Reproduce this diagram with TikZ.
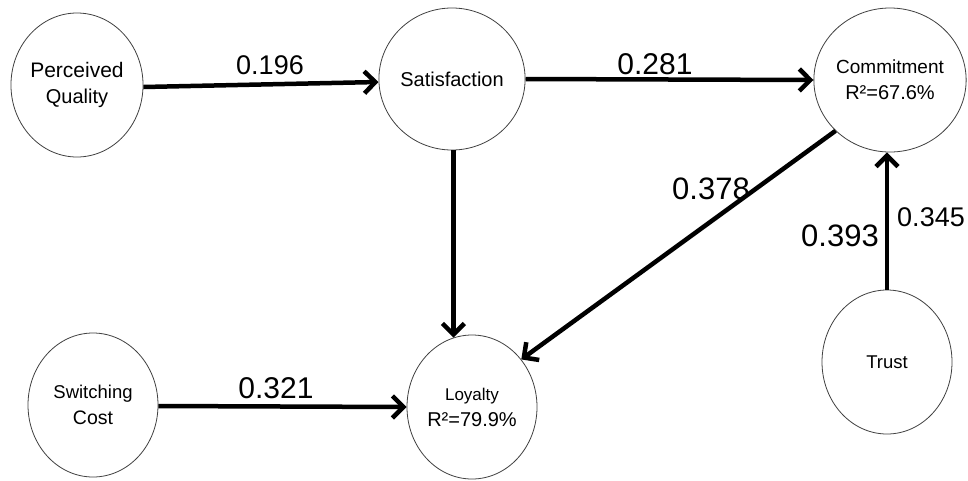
\documentclass[tikz,border=0pt]{standalone}
\usepackage{fontspec}
\setmainfont{Liberation Sans}
\usetikzlibrary{shapes.geometric,arrows.meta}
\begin{document}
\begin{tikzpicture}[x=1pt,y=-1pt,
  latent/.style={ellipse, draw=black!75, line width=0.8pt, minimum width=130pt, minimum height=144pt, inner sep=0pt, align=center, font=\fontsize{20}{26}\selectfont},
  conn/.style={line width=4.5pt, -{Straight Barb[length=11pt,width=22pt,line width=4.5pt]}},
  coef/.style={inner sep=0pt}
]
\useasboundingbox[fill=white] (0,0) rectangle (968,480);

\node[latent] (pq) at (77,85) {\fontsize{21}{26}\selectfont Perceived\\Quality};
\node[latent, minimum width=128pt, minimum height=142pt] (sat) at (452,79) {Satisfaction};
\node[latent] (com) at (890,80) {\fontsize{19}{26}\selectfont Commitment\\R²=67.6\%};
\node[latent] (tru) at (887,362) {\fontsize{18.5}{24}\selectfont Trust};
\node[latent] (sc) at (93,405) {\fontsize{18.5}{27}\selectfont Switching\\\fontsize{19.5}{27}\selectfont Cost};
\node[latent] (loy) at (472,407) {\fontsize{17}{27}\selectfont Loyalty\\\fontsize{20}{27}\selectfont R²=79.9\%};

\draw[conn] ([yshift=-2pt]pq.east) -- ([yshift=-3pt]sat.west);
\draw[conn] (sat.east) -- (com.west);
\draw[conn] (loy.105 |- sat.south) -- (loy.105);
\draw[conn] (com.223) -- (loy.44);
\draw[conn] (tru.north) -- (tru.north |- com.south);
\draw[conn] ([yshift=-1pt]sc.east) -- (loy.west);

\node[coef, font=\fontsize{27}{32}\selectfont] (c196) at (270,65) {0.196};
\node[coef, font=\fontsize{30}{35}\selectfont] (c281) at (655,64) {0.281};
\node[coef, font=\fontsize{31}{36}\selectfont] (c378) at (711,189) {0.378};
\node[coef, font=\fontsize{31}{36}\selectfont] (c393) at (840,236) {0.393};
\node[coef, font=\fontsize{27}{32}\selectfont] (c345) at (931,217) {0.345};
\node[coef, font=\fontsize{30}{35}\selectfont] (c321) at (276,388) {0.321};
\end{tikzpicture}
\end{document}
